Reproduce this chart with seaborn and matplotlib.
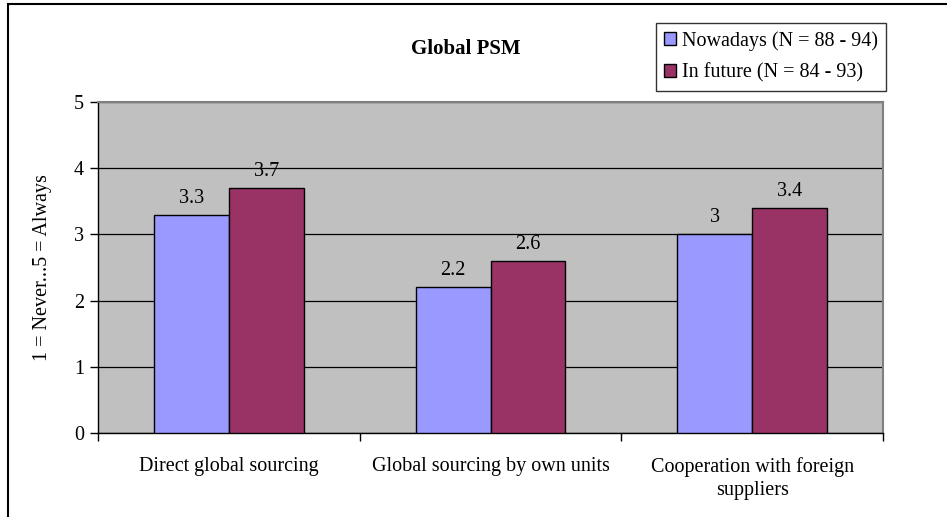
import matplotlib
matplotlib.use("Agg")
import matplotlib.pyplot as plt
from matplotlib.patches import Rectangle
import seaborn as sns
import pandas as pd

categories = ["Direct global sourcing", "Global sourcing by own units",
              "Cooperation with foreign\nsuppliers"]
series_names = ["Nowadays (N = 88 - 94)", "In future (N = 84 - 93)"]
nowadays = [3.3, 2.2, 3.0]
in_future = [3.7, 2.6, 3.4]
y_ticks = [0, 1, 2, 3, 4, 5]

df = pd.DataFrame({
    "category": categories * 2,
    "series": [series_names[0]] * 3 + [series_names[1]] * 3,
    "value": nowadays + in_future,
})

sns.set_theme(style="white")
plt.rcParams["font.family"] = ["Liberation Serif", "DejaVu Serif"]
for key in ("text.color", "axes.labelcolor", "xtick.color", "ytick.color"):
    plt.rcParams[key] = "black"

FS = 14.5

fig = plt.figure(figsize=(9.47, 5.17), dpi=100)
ax = fig.add_axes([98 / 947, 1 - 433 / 517, (883 - 98) / 947, (433 - 102) / 517])

palette = ["#9999FF", "#993366"]
sns.barplot(data=df, x="category", y="value", hue="series", palette=palette,
            width=0.573, gap=0, edgecolor="black", linewidth=1.0,
            saturation=1, ax=ax, legend=True, zorder=3)

ax.set_facecolor("#C0C0C0")
ax.set_ylim(0, 5)
ax.set_xlim(-0.5, 2.5)
ax.set_yticks(y_ticks)
ax.yaxis.grid(True, color="black", linewidth=0.9, zorder=1)
ax.set_axisbelow(True)

for cont in ax.containers:
    ax.bar_label(cont, fmt="%g", padding=5, fontsize=FS)

# category boundaries carry the tick marks, centres carry the labels
ax.set_xticks([-0.5, 0.5, 1.5, 2.5], minor=True)
ax.tick_params(axis="x", which="minor", length=6, width=1, color="black",
               direction="out", bottom=True)
ax.tick_params(axis="x", which="major", length=0, labelsize=FS, pad=17)
for lbl in ax.get_xticklabels():
    lbl.set_linespacing(1.3)
ax.tick_params(axis="y", length=6, width=1, color="black", direction="out",
               left=True, labelsize=FS, pad=4)
ax.set_xlabel("")
ax.set_ylabel("1 = Never...5 = Always", fontsize=FS, labelpad=16)

for side in ("left", "bottom"):
    ax.spines[side].set_color("black")
    ax.spines[side].set_linewidth(1.0)
for side in ("top", "right"):
    ax.spines[side].set_color("#808080")
    ax.spines[side].set_linewidth(1.5)

fig.text(466 / 947, 1 - 49 / 517, "Global PSM", ha="center", va="center",
         fontsize=15, fontweight="bold")

handles, labels = ax.get_legend_handles_labels()
ax.get_legend().remove()
leg = fig.legend(handles, labels, loc="upper right",
                 bbox_to_anchor=(886 / 947, 1 - 23 / 517),
                 fontsize=FS, frameon=True, fancybox=False,
                 handlelength=0.6, handleheight=0.6, handletextpad=0.3,
                 borderpad=0.4, labelspacing=0.62, borderaxespad=0)
leg.get_frame().set_edgecolor("black")
leg.get_frame().set_linewidth(1.0)

# outer chart border (top and left edges fall inside the canvas)
fig.patches.append(Rectangle((8 / 947, -0.2), 1.2, 1.2 - 3.5 / 517,
                             transform=fig.transFigure, fill=False,
                             edgecolor="black", linewidth=1.5))

fig.savefig("out.png", dpi=100)
